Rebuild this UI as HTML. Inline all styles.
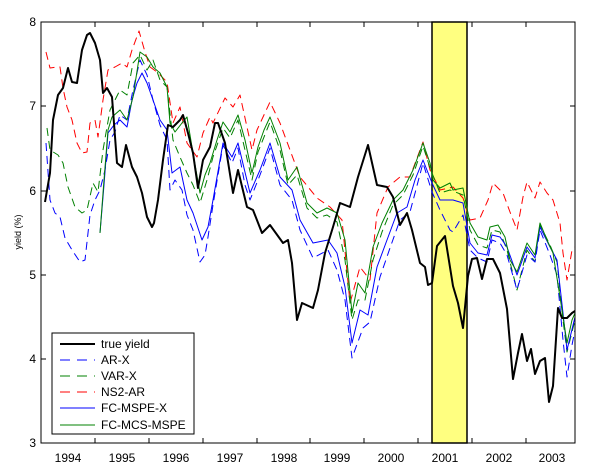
<!DOCTYPE html>
<html><head><meta charset="utf-8"><style>
html,body{margin:0;padding:0;background:#fff;}
svg{display:block;font-family:"Liberation Sans",sans-serif;}
</style></head><body>
<svg width="600" height="476" viewBox="0 0 600 476" xmlns="http://www.w3.org/2000/svg">
<rect x="0" y="0" width="600" height="476" fill="#fff"/>
<rect x="41" y="22" width="534" height="421" fill="#fff"/>
<rect x="432" y="22" width="35" height="421" fill="#ffff80" stroke="#000" stroke-width="1.5"/>
<g fill="none" stroke-linejoin="round">
<polyline stroke="#ff0000" stroke-width="1" stroke-dasharray="8,5" points="46,52 50,68 57,67 60,67 63,88 67,107 72,120 77,143 82,153 87,152 90,123 95,120 98,137 103,100 108,70 115,67 122,63 127,67 132,50 139,31 145,52 150,67 157,72 167,82 173,123 180,107 187,143 197,157 203,133 210,117 213,123 225,98 233,107 240,95 252,150 257,130 270,102 280,123 290,150 300,177 317,198 330,207 342,220 350,303 360,267 370,280 377,213 388,187 400,177 410,177 423,142 430,170 440,190 453,187 463,198 470,220 480,218 488,200 493,183 503,193 510,212 517,230 523,197 527,182 535,198 540,182 547,193 553,200 560,223 563,253 567,280 572,250 575,247"/>
<polyline stroke="#008000" stroke-width="1" stroke-dasharray="8,5" points="47,128 50,150 58,155 63,163 68,187 75,207 82,213 87,210 93,183 98,192 103,150 110,110 115,100 120,90 127,95 133,63 140,55 147,70 153,60 160,80 167,87 173,140 180,157 187,173 193,185 200,203 207,180 213,157 223,128 230,138 238,120 245,150 252,180 258,152 270,122 280,150 288,185 297,175 307,208 317,218 327,215 337,222 345,260 352,320 358,300 365,300 373,260 382,232 393,205 403,195 413,175 423,146 430,168 440,193 450,190 463,195 470,230 478,245 487,248 492,230 500,232 507,250 517,290 527,250 535,262 540,225 550,245 557,262 563,320 567,352 575,320"/>
<polyline stroke="#0000ff" stroke-width="1" stroke-dasharray="8,5" points="46,143 50,200 55,213 60,217 65,238 72,250 80,262 85,260 90,215 95,200 100,190 105,170 110,140 115,132 120,115 127,120 133,90 140,60 147,75 153,100 160,125 167,140 170,190 175,180 182,190 187,215 193,230 200,262 205,255 208,237 213,205 223,145 232,163 238,148 245,185 250,200 260,175 270,148 280,185 292,200 300,230 313,258 328,250 337,270 345,300 352,358 363,328 370,322 380,277 390,248 400,220 410,212 423,163 432,192 440,210 450,230 453,232 463,215 470,250 478,258 487,262 492,240 500,243 507,255 517,290 527,255 535,262 540,230 550,255 557,275 563,340 567,377 572,345 575,330"/>
<polyline stroke="#0000ff" stroke-width="1" points="100,233 104,185 108,133 114,125 120,120 127,127 132,100 137,83 142,73 147,83 153,100 160,120 167,130 172,173 180,167 187,200 193,213 202,240 208,227 213,200 223,143 232,157 238,143 250,193 260,170 270,143 280,177 292,190 300,220 313,243 328,240 337,253 345,287 352,343 360,310 368,315 377,267 387,240 397,213 407,207 415,180 423,160 432,183 440,200 453,200 463,203 470,243 478,253 487,255 492,235 500,237 507,247 517,275 527,247 535,258 540,227 550,247 557,260 563,313 567,350 575,317"/>
<polyline stroke="#008000" stroke-width="1" points="100,233 104,180 108,130 112,117 120,110 127,120 133,97 140,52 147,57 153,67 160,73 167,87 170,123 175,132 182,123 187,117 193,153 200,193 205,175 210,163 217,140 223,122 230,132 238,115 245,140 252,173 258,147 264,130 270,117 280,143 288,180 297,167 307,203 317,213 327,208 337,213 345,240 352,313 358,283 365,293 373,247 382,223 393,200 403,190 413,170 423,143 430,163 433,180 440,188 450,183 453,190 463,188 470,223 478,237 487,240 490,227 498,225 505,237 510,260 517,272 527,243 535,255 540,223 547,240 553,253 560,297 567,343 572,320 575,313"/>
<polyline stroke="#000" stroke-width="2" points="45,202 50,173 53,120 58,95 63,88 68,68 72,82 77,83 82,50 87,35 90,33 95,43 100,60 103,93 107,88 112,97 117,163 122,167 126,145 132,167 137,177 142,193 147,217 152,227 154,223 158,200 163,160 168,125 173,127 180,120 183,115 188,133 193,153 198,188 203,160 210,147 215,123 218,123 225,143 233,193 238,170 247,207 253,210 262,233 270,225 283,243 288,240 292,263 297,320 302,303 313,308 318,290 325,253 333,227 340,203 350,207 358,177 368,145 377,185 387,187 393,197 400,225 407,213 412,230 420,263 425,267 428,285 432,283 437,246 445,236 453,286 458,303 463,328 468,276 472,259 477,258 482,279 487,259 493,259 500,273 507,309 513,379 518,353 522,334 527,361 531,349 535,374 540,361 545,358 549,402 553,386 558,308 562,318 567,318 572,313 575,311"/>
</g>
<rect x="41" y="22" width="534" height="421" fill="none" stroke="#000" stroke-width="1"/>
<g stroke="#000" stroke-width="1">
<line x1="95" y1="443" x2="95" y2="438"/><line x1="149" y1="443" x2="149" y2="438"/><line x1="203" y1="443" x2="203" y2="438"/><line x1="257" y1="443" x2="257" y2="438"/><line x1="310" y1="443" x2="310" y2="438"/><line x1="364" y1="443" x2="364" y2="438"/><line x1="418" y1="443" x2="418" y2="438"/><line x1="472" y1="443" x2="472" y2="438"/><line x1="526" y1="443" x2="526" y2="438"/>
<line x1="95" y1="22" x2="95" y2="27"/><line x1="149" y1="22" x2="149" y2="27"/><line x1="203" y1="22" x2="203" y2="27"/><line x1="257" y1="22" x2="257" y2="27"/><line x1="310" y1="22" x2="310" y2="27"/><line x1="364" y1="22" x2="364" y2="27"/><line x1="418" y1="22" x2="418" y2="27"/><line x1="472" y1="22" x2="472" y2="27"/><line x1="526" y1="22" x2="526" y2="27"/>
<line x1="41" y1="106" x2="46" y2="106"/><line x1="41" y1="191" x2="46" y2="191"/><line x1="41" y1="275" x2="46" y2="275"/><line x1="41" y1="359" x2="46" y2="359"/>
<line x1="575" y1="106" x2="570" y2="106"/><line x1="575" y1="191" x2="570" y2="191"/><line x1="575" y1="275" x2="570" y2="275"/><line x1="575" y1="359" x2="570" y2="359"/>
</g>
<g font-size="12" fill="#000" text-anchor="end">
<text x="36" y="26">8</text><text x="36" y="110">7</text><text x="36" y="195">6</text><text x="36" y="279">5</text><text x="36" y="363">4</text><text x="36" y="447">3</text>
</g>
<g font-size="12" fill="#000" text-anchor="middle">
<text x="68" y="462">1994</text><text x="122" y="462">1995</text><text x="176" y="462">1996</text><text x="230" y="462">1997</text><text x="284" y="462">1998</text><text x="337" y="462">1999</text><text x="391" y="462">2000</text><text x="445" y="462">2001</text><text x="499" y="462">2002</text><text x="552" y="462">2003</text>
</g>
<text x="0" y="0" font-size="9" text-anchor="middle" transform="translate(21,232) rotate(-90)">yield (%)</text>
<rect x="52" y="333" width="142" height="101" fill="#fff" stroke="#000" stroke-width="1"/>
<g fill="none">
<line x1="60" y1="344" x2="95" y2="344" stroke="#000" stroke-width="2"/>
<line x1="60" y1="360" x2="95" y2="360" stroke="#0000ff" stroke-dasharray="10,7"/>
<line x1="60" y1="376" x2="95" y2="376" stroke="#008000" stroke-dasharray="10,7"/>
<line x1="60" y1="392" x2="95" y2="392" stroke="#ff0000" stroke-dasharray="10,7"/>
<line x1="60" y1="408" x2="95" y2="408" stroke="#0000ff"/>
<line x1="60" y1="425" x2="95" y2="425" stroke="#008000"/>
</g>
<g font-size="12" fill="#000">
<text x="101" y="348">true yield</text><text x="101" y="364">AR-X</text><text x="101" y="380">VAR-X</text><text x="101" y="396">NS2-AR</text><text x="101" y="412">FC-MSPE-X</text><text x="101" y="429">FC-MCS-MSPE</text>
</g>
</svg>
</body></html>
